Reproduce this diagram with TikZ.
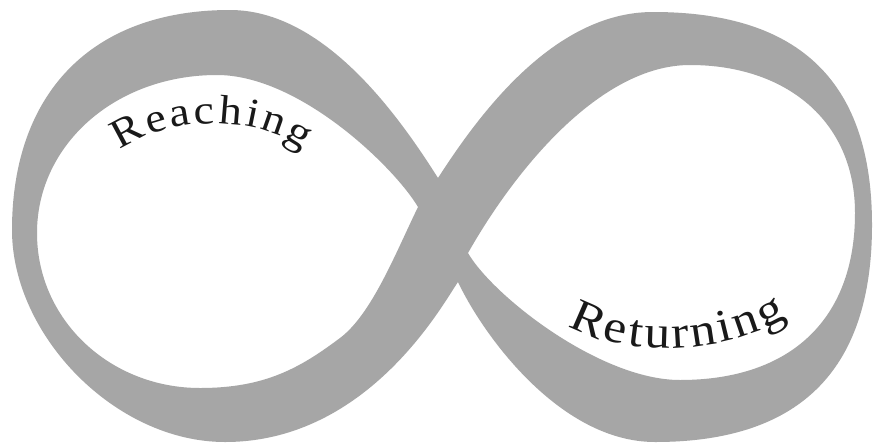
\documentclass[tikz,border=0pt]{standalone}
\usepackage{fontspec}
\setmainfont{Liberation Serif}
\newfontfamily\labelfont[FakeStretch=1.12]{Liberation Serif}
\usetikzlibrary{decorations.text}
\definecolor{bandgray}{RGB}{166,166,166}
\begin{document}
\begin{tikzpicture}[x=1pt,y=-1pt,
  band/.style={fill=bandgray, even odd rule},
  arclabel/.style={decorate, decoration={text along path, text align=fit to path, text color=black!90}}]
\fill[white] (0,0) rectangle (873,445);
\useasboundingbox (0,0) rectangle (873,445);
% infinity band: outer contour and two holes
\fill[band]
 (438,178) .. controls (400,118) and (325,10) .. (230,10)
 .. controls (90,10) and (12,95) .. (12,230)
 .. controls (12,335) and (115,442) .. (225,442)
 .. controls (370,442) and (445,300) .. (458,282)
 .. controls (483,335) and (560,442) .. (655,442)
 .. controls (805,442) and (872,365) .. (872,225)
 .. controls (872,85) and (803,12) .. (653,12)
 .. controls (553,12) and (478,116) .. (438,178) -- cycle
 (418,207) .. controls (395,168) and (300,75) .. (217,75)
 .. controls (115,75) and (37,145) .. (37,233)
 .. controls (37,320) and (110,388) .. (200,388)
 .. controls (265,388) and (300,368) .. (340,338)
 .. controls (372,314) and (396,252) .. (418,207) -- cycle
 (468,253) .. controls (515,170) and (600,65) .. (690,65)
 .. controls (785,65) and (855,120) .. (855,213)
 .. controls (855,320) and (790,380) .. (680,380)
 .. controls (600,380) and (493,296) .. (468,253) -- cycle;
% labels
\path[arclabel, decoration={text={|\labelfont\fontsize{41}{46}\selectfont|Reaching}}]
 (120,150) .. controls (165,117) and (255,112) .. (303,150);
\path[arclabel, decoration={text={|\labelfont\fontsize{46}{52}\selectfont|Returning}}]
 (568,325) .. controls (620,357) and (720,357) .. (787,317);
\end{tikzpicture}
\end{document}
